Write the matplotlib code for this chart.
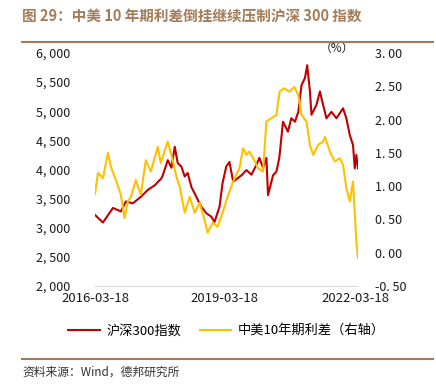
import matplotlib
matplotlib.use('Agg')
import matplotlib.pyplot as plt
import matplotlib.dates as mdates
from matplotlib.ticker import FuncFormatter
import pandas as pd

plt.rcParams['font.family'] = ['Noto Sans CJK SC', 'DejaVu Sans']

# ---------------------------------------------------------------------------
# data
# ---------------------------------------------------------------------------
csi_dates = ['2016-03-18', '2016-05-24', '2016-08-16', '2016-10-22', '2016-12-03',
             '2017-01-31', '2017-04-08', '2017-06-06', '2017-08-04', '2017-09-29',
             '2017-10-10', '2017-11-21', '2017-12-22', '2018-01-19', '2018-02-13',
             '2018-03-16', '2018-04-13', '2018-05-08', '2018-06-08', '2018-07-20',
             '2018-08-31', '2018-10-12', '2018-11-23', '2018-12-20', '2019-01-31',
             '2019-02-26', '2019-03-29', '2019-04-25', '2019-05-26', '2019-08-04',
             '2019-09-15', '2019-10-27', '2019-12-08', '2020-01-02', '2020-02-02',
             '2020-03-01', '2020-03-15', '2020-04-26', '2020-05-24', '2020-06-18',
             '2020-07-19', '2020-08-30', '2020-09-27', '2020-10-28', '2020-11-25',
             '2020-12-22', '2021-01-20', '2021-02-08', '2021-03-03', '2021-03-16',
             '2021-04-27', '2021-05-26', '2021-06-22', '2021-07-20', '2021-08-31',
             '2021-10-12', '2021-12-07', '2022-01-04', '2022-02-02', '2022-03-01',
             '2022-03-16', '2022-03-29', '2022-04-12']
csi300 = [3220, 3090, 3340, 3280, 3450,
          3420, 3530, 3650, 3730, 3850,
          3900, 4160, 4030, 4390, 4110,
          4050, 3880, 3940, 3700, 3530,
          3360, 3250, 3190, 3100, 3360,
          3770, 4050, 4130, 3790, 3900,
          3990, 3910, 4080, 4200, 4030,
          4200, 3560, 3900, 3960, 4200,
          4820, 4650, 4880, 4820, 4990,
          5450, 5570, 5790, 5340, 4940,
          5110, 5340, 5110, 4880, 4990,
          4880, 5050, 4880, 4590, 4420,
          4020, 4250, 4020]

spread_dates = ['2016-03-18', '2016-04-12', '2016-05-24', '2016-07-05', '2016-07-30',
                '2016-09-10', '2016-10-22', '2016-11-22', '2016-12-20', '2017-01-14',
                '2017-02-25', '2017-04-08', '2017-05-20', '2017-07-01', '2017-08-29',
                '2017-09-23', '2017-11-21', '2018-01-02', '2018-02-02', '2018-03-02',
                '2018-04-13', '2018-05-25', '2018-07-06', '2018-08-16', '2018-09-27',
                '2018-10-23', '2018-12-04', '2019-01-15', '2019-02-26', '2019-04-09',
                '2019-05-26', '2019-07-18', '2019-08-18', '2019-09-15', '2019-10-10',
                '2019-11-10', '2019-12-22', '2020-02-02', '2020-03-01', '2020-04-12',
                '2020-05-24', '2020-06-21', '2020-07-30', '2020-09-10', '2020-10-22',
                '2020-11-25', '2020-12-22', '2021-02-02', '2021-03-03', '2021-03-30',
                '2021-05-11', '2021-06-22', '2021-07-07', '2021-08-18', '2021-09-29',
                '2021-11-10', '2021-12-07', '2022-01-04', '2022-02-02', '2022-03-01',
                '2022-03-29', '2022-04-12']
spread = [0.88, 1.20, 1.12, 1.50, 1.29,
          1.09, 0.87, 0.52, 0.77, 0.84,
          1.09, 0.87, 1.39, 1.22, 1.59,
          1.35, 1.67, 1.39, 1.14, 0.99,
          0.60, 0.84, 0.60, 0.75, 0.49,
          0.30, 0.45, 0.39, 0.60, 0.84,
          1.07, 1.27, 1.57, 1.47, 1.52,
          1.42, 1.27, 1.22, 1.97, 2.02,
          2.07, 2.42, 2.47, 2.42, 2.49,
          2.37, 2.07, 1.97, 1.62, 1.47,
          1.62, 1.67, 1.74, 1.52, 1.37,
          1.42, 1.32, 0.97, 0.77, 1.07,
          0.17, -0.08]

x_ticks = ['2016-03-18', '2019-03-18', '2022-03-18']

title = '图 29：中美 10 年期利差倒挂继续压制沪深 300 指数'
source = '资料来源：Wind，德邦研究所'

RED = '#C00000'
YELLOW = '#FFC000'
BROWN = '#A47B58'

# ---------------------------------------------------------------------------
# figure
# ---------------------------------------------------------------------------
W, H = 436, 386
fig = plt.figure(figsize=(W / 100, H / 100), dpi=100)

ax = fig.add_axes([95 / W, 1 - 286 / H, 263 / W, 233 / H])
ax2 = ax.twinx()

l1, = ax.plot(pd.to_datetime(csi_dates), csi300, color=RED, lw=1.5)
l2, = ax2.plot(pd.to_datetime(spread_dates), spread, color=YELLOW, lw=1.5)

ax.set_ylim(2000, 6000)
ax.set_yticks(range(2000, 6001, 500))
ax.yaxis.set_major_formatter(FuncFormatter(lambda v, p: f'{int(v) // 1000}, {int(v) % 1000:03d}'))
ax2.set_ylim(-0.5, 3.0)
ax2.set_yticks([-0.5, 0, 0.5, 1.0, 1.5, 2.0, 2.5, 3.0])
ax2.yaxis.set_major_formatter(FuncFormatter(lambda v, p: f'{v:.2f}'.replace('.', '. ')))

ax.set_xlim(pd.Timestamp('2016-03-18'), pd.Timestamp('2022-04-12'))
ax.set_xticks(pd.to_datetime(x_ticks))
ax.xaxis.set_major_formatter(mdates.DateFormatter('%Y-%m-%d'))

for a in (ax, ax2):
    for s in a.spines.values():
        s.set_visible(False)
    a.tick_params(length=0, labelsize=9, colors='#1a1a1a')
ax.spines['bottom'].set_visible(True)
ax.spines['bottom'].set_color('#d9d9d9')
ax.tick_params(axis='y', pad=18)
ax2.tick_params(axis='y', pad=12)
ax.tick_params(axis='x', pad=4, labelsize=9.5)

ax2.text(0.92, 1.02, '（%）', transform=ax2.transAxes, ha='center', va='center',
         fontsize=8.5, color='#1a1a1a')

fig.legend([l1, l2], ['沪深300指数', '中美10年期利差（右轴）'], loc='center',
           bbox_to_anchor=(0.52, 1 - 331 / H), ncol=2, frameon=False,
           fontsize=9.5, handlelength=2.4, columnspacing=1.4, handletextpad=0.5)

# title, rules and source
fig.text(22 / W, 1 - 17 / H, title, fontsize=10.5, fontweight='bold', color=BROWN,
         ha='left', va='center')
fig.add_artist(plt.Line2D([22 / W, 433 / W], [1 - 42 / H, 1 - 42 / H], color=BROWN, lw=1.5))
fig.add_artist(plt.Line2D([22 / W, 433 / W], [1 - 359 / H, 1 - 359 / H], color=BROWN, lw=1.5))
fig.text(22 / W, 1 - 372 / H, source, fontsize=8.5, color='#333333', ha='left', va='center')

fig.savefig('out.png', dpi=100)
